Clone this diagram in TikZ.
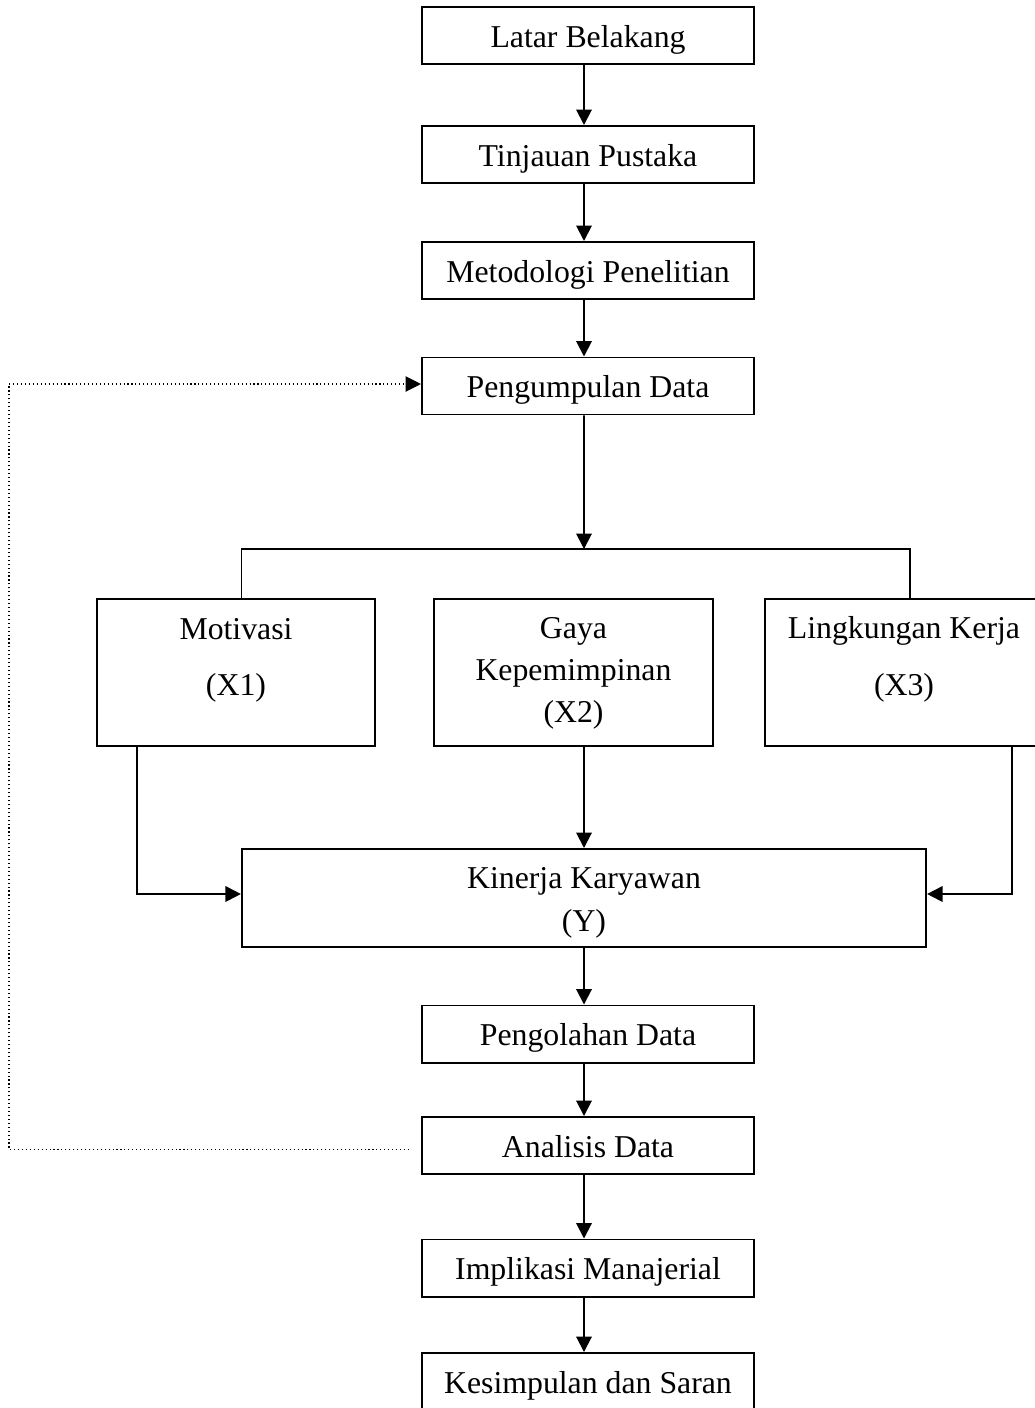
\documentclass[tikz,border=0pt]{standalone}
\usepackage{fontspec}
\setmainfont{Liberation Serif}
\usetikzlibrary{arrows.meta}

\tikzset{
  stepbox/.style={draw, line width=1.4pt, minimum width=8.3cm, minimum height=1.425cm,
    inner sep=0pt, text height=18pt, text depth=1pt},
  varbox/.style={draw, line width=1.4pt, minimum width=6.95cm, minimum height=3.675cm,
    inner sep=0pt, align=center, text height=69pt, text depth=35.6pt},
  flow/.style={line width=1.4pt, -{Triangle[length=11pt,width=11pt]}},
  feedback/.style={line width=0.8pt, dash pattern=on 0.8pt off 2pt,
    -{Triangle[length=11pt,width=11pt]}},
  axis/.style={xshift=-0.1cm}
}

\begin{document}
\begin{tikzpicture}[x=0.025cm, y=-0.025cm, font=\fontsize{22.6}{30}\selectfont]
  \useasboundingbox (0,0) rectangle (1034,1408);

  % alur utama
  \node[stepbox] (latar) at (588,35.5) {Latar Belakang};
  \node[stepbox] (tinjauan) at (588,154.5) {Tinjauan Pustaka};
  \node[stepbox] (metodologi) at (588,270.5) {Metodologi Penelitian};
  \node[stepbox] (pengumpulan) at (588,386) {Pengumpulan Data};

  % variabel
  \node[varbox] (motivasi) at (236,672.5) {Motivasi\\[10.5pt](X1)};
  \node[varbox, minimum width=6.975cm, text height=88.2pt, text depth=16.4pt]
    (gaya) at (573.5,672.5) {Gaya\\Kepemimpinan\\(X2)};
  \node[varbox, text height=68.3pt, text depth=36.3pt]
    (lingkungan) at (904,672.5) {Lingkungan Kerja\\[10.5pt](X3)};
  \node[varbox, minimum width=17.1cm, minimum height=2.45cm, text height=59pt,
    text depth=10.7pt] (kinerja) at (584,898) {Kinerja Karyawan\\[0.6pt](Y)};

  \node[stepbox] (pengolahan) at (588,1034) {Pengolahan Data};
  \node[stepbox] (analisis) at (588,1145.5) {Analisis Data};
  \node[stepbox] (implikasi) at (588,1268) {Implikasi Manajerial};
  \node[stepbox] (kesimpulan) at (588,1381.5) {Kesimpulan dan Saran};

  \coordinate (split) at (584,549);
  \coordinate (loopstart) at ([xshift=-0.3cm,yshift=-0.09cm]analisis.west);

  \draw[flow] ([axis]latar.south) -- ([axis]tinjauan.north);
  \draw[flow] ([axis]tinjauan.south) -- ([axis]metodologi.north);
  \draw[flow] ([axis]metodologi.south) -- ([axis]pengumpulan.north);
  \draw[flow] ([axis]pengumpulan.south) -- (split);
  \draw[line width=1.4pt] ([xshift=0.1375cm]motivasi.north) |- (split)
    -| ([xshift=0.15cm]lingkungan.north);

  \draw[flow] ([xshift=-2.475cm]motivasi.south) |- ([yshift=0.1cm]kinerja.west);
  \draw[flow] (kinerja.north |- gaya.south) -- (kinerja.north);
  \draw[flow] ([xshift=2.7cm]lingkungan.south) |- ([yshift=0.1cm]kinerja.east);

  \draw[flow] (kinerja.south) -- ([axis]pengolahan.north);
  \draw[flow] ([axis]pengolahan.south) -- ([axis]analisis.north);
  \draw[flow] ([axis]analisis.south) -- ([axis]implikasi.north);
  \draw[flow] ([axis]implikasi.south) -- ([axis]kesimpulan.north);

  % umpan balik
  \draw[feedback] (loopstart) -- ++(-400,0) |- ([yshift=0.05cm]pengumpulan.west);
\end{tikzpicture}
\end{document}
